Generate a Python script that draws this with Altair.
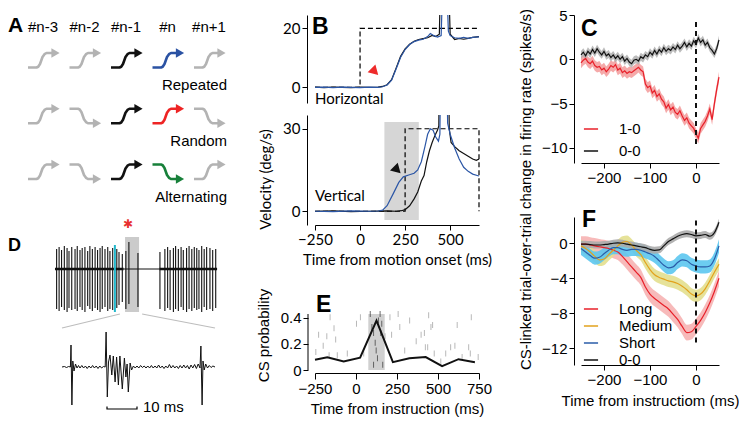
import altair as alt
import pandas as pd

HELV = "Liberation Sans"
MYR = "Lato"

panel_letters = ["A", "B", "C", "D", "E", "F"]

# ---------------- Panel A (schematic) ----------------
a_headers = ["#n-3", "#n-2", "#n-1", "#n", "#n+1"]
a_row_labels = ["Repeated", "Random", "Alternating"]
a_dirs = [
    ["up", "up", "up", "up", "up"],
    ["up", "down", "up", "up", "down"],
    ["up", "down", "up", "down", "up"],
]
a_colors = [
    ["#b3b3b3", "#b3b3b3", "#111111", "#2a52a3", "#b3b3b3"],
    ["#b3b3b3", "#b3b3b3", "#111111", "#ee2424", "#b3b3b3"],
    ["#b3b3b3", "#b3b3b3", "#111111", "#17803a", "#b3b3b3"],
]

# ---------------- Panel B (eye velocity) ----------------
bh_black_t = [-250, -200, -150, -100, -50, 0, 50, 100, 125, 150, 175, 200, 225, 250, 275, 300, 325, 350, 375, 400, 420, 440, 446, 452, 484, 492, 500, 525, 550, 575, 600, 625, 660]
bh_black_v = [0.1, -0.1, 0.1, 0, -0.1, 0.1, 0, 0.1, 0.3, 0.9, 2.6, 6.5, 10.5, 13, 14.6, 15.6, 16.2, 16.5, 16.8, 17.6, 17.2, 18, 35, 70, 70, 35, 18, 16.2, 16.6, 16.3, 16.6, 16.9, 17.2]
bh_blue_t = [-250, -200, -150, -100, -50, 0, 50, 100, 125, 150, 175, 200, 225, 250, 275, 300, 325, 350, 375, 390, 410, 430, 450, 456, 462, 478, 484, 490, 500, 525, 550, 575, 600, 625, 660]
bh_blue_v = [0, 0.1, -0.1, 0.1, 0, -0.1, 0.1, 0, 0.2, 0.8, 2.4, 6.2, 10.2, 12.8, 14.5, 15.5, 16, 16.3, 17.2, 18.2, 17.5, 17, 17.5, 30, 70, 70, 30, 19, 17.5, 16.8, 16.6, 16.9, 16.6, 16.9, 17.1]
bv_black_t = [-250, -150, -50, 50, 150, 200, 230, 250, 275, 300, 320, 340, 355, 370, 385, 400, 415, 430, 437, 443, 488, 495, 505, 525, 550, 575, 600, 625, 645, 660]
bv_black_v = [0, 0.1, -0.1, 0, 0.1, 0, 0.2, 0.6, 2, 4.5, 7, 11, 13, 18, 22, 25, 27.5, 29.5, 31, 70, 70, 30, 25, 23.5, 22, 21, 20, 19, 18.5, 19]
bv_blue_t = [-250, -150, -50, 50, 100, 125, 150, 185, 215, 240, 270, 300, 320, 340, 360, 375, 390, 405, 420, 435, 443, 450, 478, 486, 500, 525, 550, 575, 600, 625, 660]
bv_blue_v = [0, -0.1, 0.1, 0, 0.1, 0.4, 2, 6.5, 10.5, 12.5, 13.2, 13.8, 15, 18, 23.5, 28, 30, 29.5, 27, 25.5, 28, 70, 70, 32, 28, 23, 19, 16, 14.5, 13.5, 12.8]
bh_target_t = [-250, 0, 0, 660]
bh_target_v = [0, 0, 20, 20]
bv_target_t = [-250, 250, 250, 660, 660]
bv_target_v = [0, 0, 30, 30, 0]
bv_window_t = [135, 326]
bv_window_v = [-3.2, 32.5]
b_labels = ["Horizontal", "Vertical"]
bh_marker = [76, 5.7]
bv_marker = [200, 15.4]

# ---------------- Panel C ----------------
c_t = [-250, -245, -240, -235, -230, -225, -220, -215, -210, -205, -200, -195, -190, -185, -180, -175, -170, -165, -160, -155, -150, -145, -140, -135, -130, -125, -120, -115, -110, -105, -100, -95, -90, -85, -80, -75, -70, -65, -60, -55, -50, -45, -40, -35, -30, -25, -20, -15, -10, -5, 0, 5, 10, 15, 20, 25, 30, 35, 40, 45, 50]
c_red = [-0.4, -0.1, 0.1, -0.3, -0.5, -0.2, -0.7, -0.9, -0.8, -1.2, -1.0, -1.4, -1.1, -0.7, -0.9, -0.6, -1.2, -1.0, -1.5, -1.3, -1.6, -1.4, -1.5, -1.3, -1.1, -0.9, -1.2, -1.4, -2.8, -3.2, -3.0, -3.8, -3.5, -4.2, -3.9, -4.5, -4.8, -5.5, -5.1, -5.7, -5.4, -6.0, -6.2, -5.8, -6.4, -6.9, -6.6, -7.2, -7.5, -7.8, -8.4, -8.9, -7.8, -7.4, -7.0, -6.4, -5.6, -6.8, -5.0, -3.4, -2.0]
c_black = [0.5, 0.8, 0.4, 0.9, 0.6, 1.1, 0.7, 1.2, 0.8, 0.5, 0.9, 0.4, 0.6, 0.2, 0.5, 0.1, 0.4, 0.0, 0.3, -0.2, 0.1, -0.3, -0.5, -0.1, 0.0, -0.2, 0.3, 0.1, 0.5, 0.3, 0.8, 0.5, 1.0, 0.6, 1.1, 0.8, 1.3, 0.9, 1.2, 1.0, 1.4, 1.1, 1.6, 1.2, 1.5, 1.9, 1.4, 1.8, 1.5, 2.1, 1.7, 2.4, 1.9, 2.2, 1.6, 1.9, 1.3, 1.0, 0.6, 1.2, 2.2]
c_series = ["1-0", "0-0"]
c_sem = [0.6, 0.45]

# ---------------- Panel D (recording) ----------------
d_spike_t = [6, 15, 24, 34, 44, 51, 61, 73, 81, 91, 99, 109, 119, 127, 136, 146, 155, 164, 172, 182, 192, 200, 210, 225, 233, 245, 258, 269, 302, 382, 400, 410, 419, 431, 439, 449, 459, 467, 479, 488, 498, 507, 516, 524, 534, 543, 552, 564, 574, 585]
d_spike_up = [20, 22, 19, 23, 21, 18, 22, 20, 23, 19, 21, 22, 18, 23, 20, 22, 19, 21, 23, 20, 22, 18, 21, 20, 17, 15, 18, 27, 16, 17, 20, 22, 19, 21, 23, 20, 22, 19, 21, 23, 20, 22, 21, 19, 23, 20, 22, 21, 19, 20]
d_spike_down = [-40, -42, -38, -41, -43, -39, -41, -40, -42, -38, -41, -43, -37, -40, -42, -39, -41, -43, -40, -38, -42, -40, -41, -39, -36, -33, -40, -35, -38, -40, -42, -39, -41, -43, -40, -42, -38, -41, -43, -40, -42, -39, -41, -40, -43, -38, -41, -40, -42, -39]
d_base_t0 = [0, 250, 380]
d_base_t1 = [250, 380, 590]
d_cue_t = 218
d_window_t = [255, 306]
d_zoom_t = [0.0, 0.8, 1.5, 2.2, 2.8, 3.0, 3.3, 3.6, 4.0, 4.5, 5.0, 5.5, 6.0, 6.6, 7.2, 7.8, 8.4, 9.0, 9.6, 10.2, 10.8, 11.4, 12.0, 12.6, 13.2, 13.8, 14.4, 14.7, 15.1, 15.5, 16.0, 16.6, 17.1, 17.7, 18.2, 18.8, 19.3, 20.1, 20.8, 21.3, 21.7, 22.1, 22.7, 23.2, 23.8, 24.4, 25.0, 25.6, 26.2, 26.8, 27.4, 28.0, 28.6, 29.2, 29.8, 30.4, 31.0, 31.6, 32.2, 32.8, 33.4, 34.0, 34.6, 35.2, 35.8, 36.4, 37.0, 37.6, 38.2, 38.8, 39.4, 40.0, 40.6, 41.2, 41.8, 42.4, 43.0, 43.6, 44.2, 44.8, 45.4, 46.0, 46.3, 46.7, 47.0, 47.4, 47.9, 48.5, 49.1, 49.7, 50.3, 51.0]
d_zoom_v = [0, 0.5, -0.5, 0.5, 0, 22, -38, 6, -4, 3, -1, 1.5, -1, 1.5, -1, 1, -1.5, 1, -1, 1.5, -1, 1, -1.5, 1, -1, 0.5, 0, 35, -30, 5, 12, -8, 11, -15, 10, -18, 11, -22, 9, -10, 3, -25, 4, -3, 1, -1, 1, -1, 1.5, -0.5, 1, -1, 1, -1, 1.5, -1, 1, -1, 2, -1, 1, -1.5, 1, -1, 2.5, -1, 1.5, -1, 1, -1.5, 1.5, -1, 2, -1, 1.5, -2, 2, -1, 2.5, -1.5, 3, -1, 21, -38, 6, -3, 3, -1, 1.5, -0.5, 1, 0]
d_scalebar_ms = [15, 25]
d_scalebar_label = "10 ms"

# ---------------- Panel E ----------------
e_bin_t = [-250, -175, -75, 25, 125, 225, 325, 425, 525, 625, 725]
e_prob = [0.078, 0.097, 0.065, 0.095, 0.38, 0.06, 0.09, 0.099, 0.03, 0.083, 0.06]
e_raster_t = [-245, -228, -200, -178, -158, -164, -134, -124, -114, -53, 3, 27, 47, 87, 97, 107, 117, 123, 131, 137, 147, 151, 157, 163, 107, 177, 207, 217, 257, 267, 297, 327, 367, 397, 417, 423, 443, 457, 467, 437, 477, 517, 547, 577, 603, 617, 647, 687, 697, 703, 745]
e_raster_p = [0.138, 0.27, 0.187, 0.26, 0.405, 0.114, 0.32, 0.235, 0.114, 0.126, 0.356, 0.405, 0.126, 0.43, 0.33, 0.284, 0.21, 0.15, 0.09, 0.38, 0.43, 0.284, 0.356, 0.04, 0.04, 0.26, 0.405, 0.27, 0.43, 0.33, 0.15, 0.38, 0.22, 0.27, 0.284, 0.175, 0.42, 0.33, 0.345, 0.175, 0.126, 0.065, 0.126, 0.175, 0.187, 0.345, 0.1, 0.175, 0.126, 0.405, 0.1]
e_window = [75, 175]
e_top = 0.43

# ---------------- Panel F ----------------
f_t = [-250, -240, -230, -220, -210, -200, -190, -180, -170, -160, -150, -140, -130, -120, -110, -100, -90, -80, -70, -60, -50, -40, -30, -20, -10, 0, 10, 20, 30, 40, 50]
f_long = [-0.1, -0.1, -0.2, -0.3, -0.4, -0.5, -0.6, -0.8, -1.0, -1.5, -2.1, -2.7, -3.3, -3.9, -5.0, -5.8, -6.3, -6.7, -7.1, -7.5, -8.1, -8.7, -9.5, -10.2, -10.1, -9.5, -8.8, -7.9, -6.8, -5.5, -4.0]
f_medium = [-0.3, -0.6, -1.0, -1.5, -1.9, -1.8, -1.3, -0.8, -0.3, 0.1, 0.2, -0.2, -0.8, -1.3, -2.2, -3.0, -3.6, -3.9, -4.1, -4.3, -4.4, -4.6, -4.9, -5.3, -5.8, -6.0, -5.8, -5.2, -4.3, -3.3, -2.4]
f_short = [-0.6, -1.0, -1.4, -1.7, -1.6, -1.2, -0.8, -0.5, -0.5, -0.7, -0.8, -0.7, -0.7, -0.8, -1.0, -1.2, -1.5, -2.0, -2.5, -2.8, -2.7, -2.2, -1.9, -2.0, -2.4, -2.6, -2.7, -2.7, -2.6, -1.8, -0.3]
f_zero = [-0.1, -0.1, -0.15, -0.2, -0.2, -0.15, -0.1, 0.0, 0.05, 0.0, -0.1, -0.2, -0.3, -0.4, -0.5, -0.7, -0.8, -0.75, -0.3, 0.2, 0.5, 0.8, 1.0, 1.1, 1.0, 0.85, 0.9, 1.0, 0.8, 1.2, 2.4]
f_series = ["Long", "Medium", "Short", "0-0"]
f_sem = [0.9, 0.7, 0.75, 0.4]


# =====================================================================
def S(lo, hi, **kw):
    return alt.Scale(domain=[lo, hi], nice=False, zero=False, **kw)


def letter(ch, x, y, size=23):
    return alt.Chart(pd.DataFrame({"L": [ch]})).mark_text(
        align="left", baseline="top", font=HELV, fontWeight="bold",
        fontSize=size, color="black").encode(text="L:N", x=alt.value(x), y=alt.value(y))


# ---------------- A ----------------
A_W, A_H = 222, 192
A_COL, A_ROW = 41.5, 55.75
A_X0, A_Y0 = 35.0, 52.5
ARROW_X = [-15, -6.5, -4.8, -3.0, -0.5, 1.5, 3.5, 9.0]
ARROW_Y = [0, 0, 0.8, 3.5, 10.5, 13.3, 14.5, 14.5]
ARROW_H = 14.5
HEAD_X = 12.5
ax_sc = S(-A_X0 / A_COL, (A_W - A_X0) / A_COL)
ay_sc = S(-A_Y0 / A_ROW, (A_H - A_Y0) / A_ROW, reverse=True)

line_rows, head_rows = [], []
for r in range(3):
    for c in range(5):
        d = a_dirs[r][c]
        col = a_colors[r][c]
        ys = ARROW_Y if d == "up" else [ARROW_H - y for y in ARROW_Y]
        for i, (dx, dy) in enumerate(zip(ARROW_X, ys)):
            line_rows.append({"cell": f"{r}-{c}", "i": i, "x": c + dx / A_COL,
                              "y": r - dy / A_ROW, "col": col})
        hy = ARROW_H if d == "up" else 0
        head_rows.append({"x": c + HEAD_X / A_COL, "y": r - hy / A_ROW, "col": col})

AX = alt.X("x:Q", scale=ax_sc, axis=None)
AY = alt.Y("y:Q", scale=ay_sc, axis=None)
a_lines = alt.Chart(pd.DataFrame(line_rows)).mark_line(strokeWidth=2.6, strokeJoin="round").encode(
    x=AX, y=AY, detail="cell:N", order="i:Q", color=alt.Color("col:N", scale=None))
a_heads = alt.Chart(pd.DataFrame(head_rows)).mark_point(shape="triangle-right", filled=True, size=90, opacity=1).encode(
    x=AX, y=AY, color=alt.Color("col:N", scale=None))
hdr = pd.DataFrame({"x": list(range(5)), "y": [-40.5 / A_ROW] * 5, "label": a_headers})
a_hdr = alt.Chart(hdr).mark_text(font=HELV, fontSize=15, baseline="middle").encode(x=AX, y=AY, text="label:N")
rl = pd.DataFrame({"x": [4 + 18 / A_COL] * 3, "y": [r + 17.5 / A_ROW for r in range(3)], "label": a_row_labels})
a_rl = alt.Chart(rl).mark_text(font=HELV, fontSize=15, baseline="middle", align="right").encode(x=AX, y=AY, text="label:N")
chart_a = alt.layer(a_lines, a_heads, a_hdr, a_rl, letter(panel_letters[0], 0, 0, 21)).properties(width=A_W, height=A_H)

# ---------------- D ----------------
D_W, D_H = 222, 212
dtx = S(-171, 637)
dty = S(-150, 62)
dbx = S(-18, 56)
dby = S(-52, 160)
d_box = alt.Chart(pd.DataFrame({"t0": [d_window_t[0]], "t1": [d_window_t[1]], "v0": [-43], "v1": [32]})).mark_rect(color="#cbcbcb").encode(
    x=alt.X("t0:Q", scale=dtx, axis=None), x2="t1:Q", y=alt.Y("v0:Q", scale=dty, axis=None), y2="v1:Q")
d_base = alt.Chart(pd.DataFrame({"t0": d_base_t0, "t1": d_base_t1, "v": [0, 0, 0], "w": [2.6, 1.0, 2.6]})).mark_rule(color="#111").encode(
    x=alt.X("t0:Q", scale=dtx, axis=None), x2="t1:Q", y=alt.Y("v:Q", scale=dty, axis=None),
    strokeWidth=alt.StrokeWidth("w:Q", scale=None))
d_spk = alt.Chart(pd.DataFrame({"t": d_spike_t, "u": d_spike_up, "d": d_spike_down})).mark_rule(color="#111", strokeWidth=1.1).encode(
    x=alt.X("t:Q", scale=dtx, axis=None), y=alt.Y("u:Q", scale=dty, axis=None), y2="d:Q")
d_cue = alt.Chart(pd.DataFrame({"t": [d_cue_t], "u": [24], "d": [-43]})).mark_rule(color="#22b8cc", strokeWidth=2).encode(
    x=alt.X("t:Q", scale=dtx, axis=None), y=alt.Y("u:Q", scale=dty, axis=None), y2="d:Q")
d_star = alt.Chart(pd.DataFrame({"t": [266], "v": [45], "s": ["\u2731"]})).mark_text(color="#e83030", font="DejaVu Sans", fontSize=12).encode(
    x=alt.X("t:Q", scale=dtx, axis=None), y=alt.Y("v:Q", scale=dty, axis=None), text="s:N")
fan = pd.DataFrame({"seg": ["l", "l", "r", "r"], "t": [19.3, 0, 26.7, 51], "v": [53, 39, 53, 39], "i": [0, 1, 0, 1]})
d_fan = alt.Chart(fan).mark_line(color="#bdbdbd", strokeWidth=1.2).encode(
    x=alt.X("t:Q", scale=dbx, axis=None), y=alt.Y("v:Q", scale=dby, axis=None), detail="seg:N", order="i:Q")
zz = pd.DataFrame({"t": d_zoom_t, "v": d_zoom_v, "i": list(range(len(d_zoom_t)))})
d_zoom = alt.Chart(zz).mark_line(color="#111", strokeWidth=1.0).encode(
    x=alt.X("t:Q", scale=dbx, axis=None), y=alt.Y("v:Q", scale=dby, axis=None), order="i:Q")
sb = pd.DataFrame({"t": [d_scalebar_ms[0], d_scalebar_ms[0], d_scalebar_ms[1], d_scalebar_ms[1]], "v": [-39.5, -42, -42, -39.5], "i": [0, 1, 2, 3]})
d_sb = alt.Chart(sb).mark_line(color="black", strokeWidth=1.2).encode(
    x=alt.X("t:Q", scale=dbx, axis=None), y=alt.Y("v:Q", scale=dby, axis=None), order="i:Q")
d_sbl = alt.Chart(pd.DataFrame({"t": [27], "v": [-40], "s": [d_scalebar_label]})).mark_text(align="left", baseline="middle", font=HELV, fontSize=15).encode(
    x=alt.X("t:Q", scale=dbx, axis=None), y=alt.Y("v:Q", scale=dby, axis=None), text="s:N")
chart_d = alt.layer(d_box, d_base, d_spk, d_cue, d_star, d_fan, d_zoom, d_sb, d_sbl, letter(panel_letters[3], 0, 30, 18)).resolve_scale(
    x="independent", y="independent").properties(width=D_W, height=D_H)

# ---------------- B ----------------
B_W = 164
bx = S(-250, 660)
bhy = S(-5.3, 24.5)
bvy = S(-5, 35)
bh_yax = alt.Axis(values=[0, 20], offset=8, title=None, labelFont=MYR)
bv_yax = alt.Axis(values=[0, 30], offset=8, title="Velocity (deg/s)", titleY=64, titlePadding=9, labelFont=MYR, titleFont=MYR)
bv_xax = alt.Axis(values=[-250, 0, 250, 500], title="Time from motion onset (ms)", labelFont=MYR, titleFont=MYR, titlePadding=5)


def b_layers(xax, yax, ysc, target_t, target_v, black_t, black_v, blue_t, blue_v, marker, mcolor, label, label_v, window=None):
    X = lambda f="t": alt.X(f + ":Q", scale=bx, axis=xax)
    Y = lambda f="v": alt.Y(f + ":Q", scale=ysc, axis=yax)
    layers = []
    if window is not None:
        layers.append(alt.Chart(pd.DataFrame({"t": [window[0]], "t1": [window[1]], "v": [bv_window_v[0]], "v1": [bv_window_v[1]]})).mark_rect(color="#d6d6d6").encode(
            x=X(), x2="t1:Q", y=Y(), y2="v1:Q"))
    layers.append(alt.Chart(pd.DataFrame({"t": target_t, "v": target_v, "i": list(range(len(target_t)))})).mark_line(
        color="black", strokeDash=[5, 3], strokeWidth=1.2).encode(x=X(), y=Y(), order="i:Q"))
    layers.append(alt.Chart(pd.DataFrame({"t": black_t, "v": black_v})).mark_line(color="#111", strokeWidth=1.2, clip=True).encode(x=X(), y=Y()))
    layers.append(alt.Chart(pd.DataFrame({"t": blue_t, "v": blue_v})).mark_line(color="#2b56a6", strokeWidth=1.2, clip=True).encode(x=X(), y=Y()))
    layers.append(alt.Chart(pd.DataFrame({"t": [marker[0]], "v": [marker[1]]})).mark_point(
        shape="triangle", angle=135, filled=True, size=120, opacity=1, color=mcolor).encode(x=X(), y=Y()))
    layers.append(alt.Chart(pd.DataFrame({"t": [-250], "v": [label_v], "s": [label]})).mark_text(
        align="left", baseline="middle", font=MYR, fontSize=15).encode(x=X(), y=Y(), text="s:N"))
    return layers


chart_bh = alt.layer(*b_layers(None, bh_yax, bhy, bh_target_t, bh_target_v, bh_black_t, bh_black_v, bh_blue_t, bh_blue_v,
                               bh_marker, "#ee2a2a", b_labels[0], -4), letter(panel_letters[1], -3, 1)).properties(width=B_W, height=88)
chart_bv = alt.layer(*b_layers(bv_xax, bv_yax, bvy, bv_target_t, bv_target_v, bv_black_t, bv_black_v, bv_blue_t, bv_blue_v,
                               bv_marker, "#111111", b_labels[1], 5.4, window=bv_window_t)).properties(width=B_W, height=110)

# ---------------- E ----------------
E_H = 133
E_DATA_H = 56
ex = S(-250, 750)
ey = S(0, e_top * E_H / E_DATA_H)
e_xax = alt.Axis(values=[-250, 0, 250, 500, 750], offset=3, tickSize=6, title="Time from instruction (ms)", titlePadding=5)
e_yax = alt.Axis(values=[0, 0.2, 0.4], format="~g", offset=7, domain=False, title="CS probability", titleY=E_H - E_DATA_H + 21, titlePadding=9)
EX = lambda f="t": alt.X(f + ":Q", scale=ex, axis=e_xax)
EY = lambda f="p": alt.Y(f + ":Q", scale=ey, axis=e_yax)
e_box = alt.Chart(pd.DataFrame({"t": [e_window[0]], "t1": [e_window[1]], "p": [0], "p1": [e_top]})).mark_rect(color="#d0d0d0").encode(
    x=EX(), x2="t1:Q", y=EY(), y2="p1:Q")
e_ras = alt.Chart(pd.DataFrame({"t": e_raster_t, "p": e_raster_p})).mark_tick(orient="vertical", size=6, thickness=1).encode(
    x=EX(), y=EY(),
    color=alt.condition(f"datum.t >= {e_window[0]} && datum.t <= {e_window[1]}", alt.value("#333333"), alt.value("#9a9a9a")))
e_line = alt.Chart(pd.DataFrame({"t": e_bin_t, "p": e_prob})).mark_line(color="#111", strokeWidth=2).encode(x=EX(), y=EY())
e_axl = alt.Chart(pd.DataFrame({"p": [0], "p1": [e_top]})).mark_rule(color="black", strokeWidth=1).encode(
    x=alt.value(-7), y=EY(), y2="p1:Q")
chart_e = alt.layer(e_box, e_ras, e_line, e_axl, letter(panel_letters[4], 1, E_H - E_DATA_H - 20)).properties(width=B_W, height=E_H)

# ---------------- C ----------------
C_W, C_H = 138, 148
cx = S(-250, 50)
cy = S(-11.7, 5)
c_xax = alt.Axis(values=[-200, -100, 0], title=None)
c_yax = alt.Axis(values=[5, 0, -5, -10], offset=7, title=None)
CX = alt.X("t:Q", scale=cx, axis=c_xax)
c_rows = []
for name, vals, sem in zip(c_series, [c_red, c_black], c_sem):
    for t, v in zip(c_t, vals):
        c_rows.append({"series": name, "t": t, "v": v, "lo": v - sem, "hi": v + sem})
cdf = pd.DataFrame(c_rows)
c_band_cols = ["#f39a9a", "#b0b0b0"]
c_line_cols = ["#e8202a", "#111111"]
c_bands = [alt.Chart(cdf[cdf.series == s]).mark_area(color=col, opacity=0.85).encode(
    x=CX, y=alt.Y("lo:Q", scale=cy, axis=c_yax), y2="hi:Q") for s, col in zip(c_series, c_band_cols)]
c_lines = alt.Chart(cdf).mark_line(strokeWidth=1.2).encode(
    x=CX, y=alt.Y("v:Q", scale=cy, axis=c_yax),
    color=alt.Color("series:N", scale=alt.Scale(domain=c_series, range=c_line_cols),
                    legend=alt.Legend(orient="none", legendX=2, legendY=106, title=None, symbolType="stroke",
                                      symbolSize=200, symbolStrokeWidth=1.5, labelFontSize=15, labelFont=HELV,
                                      rowPadding=6, labelOffset=20, padding=0)))
c_zero = alt.Chart(pd.DataFrame({"t": [0], "a": [4.2], "b": [-10]})).mark_rule(color="#111", strokeDash=[5, 4], strokeWidth=2).encode(
    x=CX, y=alt.Y("a:Q", scale=cy, axis=c_yax), y2="b:Q")
chart_c = alt.layer(*c_bands, c_lines, c_zero, letter(panel_letters[2], 0, 3)).properties(width=C_W, height=C_H)

# ---------------- F ----------------
fx = S(-250, 50)
fy = S(-13.9, 3)
f_xax = alt.Axis(values=[-200, -100, 0], title="Time from instructiom (ms)", titlePadding=6)
f_yax = alt.Axis(values=[0, -4, -8, -12], offset=7,
                 title="CS-linked trial-over-trial change in firing rate (spikes/s)", titleY=-28, titlePadding=8)
FX = alt.X("t:Q", scale=fx, axis=f_xax)
f_rows = []
for name, vals, sem in zip(f_series, [f_long, f_medium, f_short, f_zero], f_sem):
    for t, v in zip(f_t, vals):
        f_rows.append({"series": name, "t": t, "v": v, "lo": v - sem, "hi": v + sem})
fdf = pd.DataFrame(f_rows)
f_band_cols = ["#f6b3b3", "#e3df8e", "#5cc6f0", "#ababab"]
f_line_cols = ["#e8202a", "#e2a21c", "#2a5ca8", "#111111"]
f_bands = [alt.Chart(fdf[fdf.series == s]).mark_area(color=col, opacity=0.9, interpolate="monotone").encode(
    x=FX, y=alt.Y("lo:Q", scale=fy, axis=f_yax), y2="hi:Q") for s, col in zip(f_series, f_band_cols)]
f_lines = alt.Chart(fdf).mark_line(strokeWidth=1.2, interpolate="monotone").encode(
    x=FX, y=alt.Y("v:Q", scale=fy, axis=f_yax),
    color=alt.Color("series:N", scale=alt.Scale(domain=f_series, range=f_line_cols),
                    legend=alt.Legend(orient="none", legendX=2, legendY=84, title=None, symbolType="stroke",
                                      symbolSize=200, symbolStrokeWidth=1.5, labelFontSize=15, labelFont=HELV,
                                      rowPadding=1, labelOffset=20, padding=0)))
f_zero_rule = alt.Chart(pd.DataFrame({"t": [0], "a": [2.6], "b": [-11.7]})).mark_rule(color="#111", strokeDash=[5, 4], strokeWidth=2).encode(
    x=FX, y=alt.Y("a:Q", scale=fy, axis=f_yax), y2="b:Q")
chart_f = alt.layer(*f_bands, f_lines, f_zero_rule, letter(panel_letters[5], 1, -8)).properties(width=C_W, height=C_H)

# ---------------- assemble ----------------
left = alt.vconcat(chart_a, chart_d, spacing=0, bounds="flush")
mid = alt.vconcat(chart_bh, chart_bv, chart_e, spacing=12, bounds="flush")
right = alt.vconcat(chart_c, chart_f, spacing=54, bounds="flush").resolve_scale(color="independent")

chart = alt.hconcat(left, mid, right, spacing=26).resolve_scale(color="independent").properties(padding=0).configure_axis(
    domainColor="black", tickColor="black", labelColor="black", titleColor="black", grid=False,
    tickSize=5, labelFontSize=15, titleFontSize=15, titleFontWeight="normal", labelFont=HELV, titleFont=HELV,
    domainWidth=1, tickWidth=1, labelPadding=2, titlePadding=5, labelFlush=False, labelOverlap=False
).configure_view(stroke=None).configure_legend(labelFont=HELV, labelFontSize=15)

chart.save("out.html", embed_options={"renderer": "svg", "actions": False})
